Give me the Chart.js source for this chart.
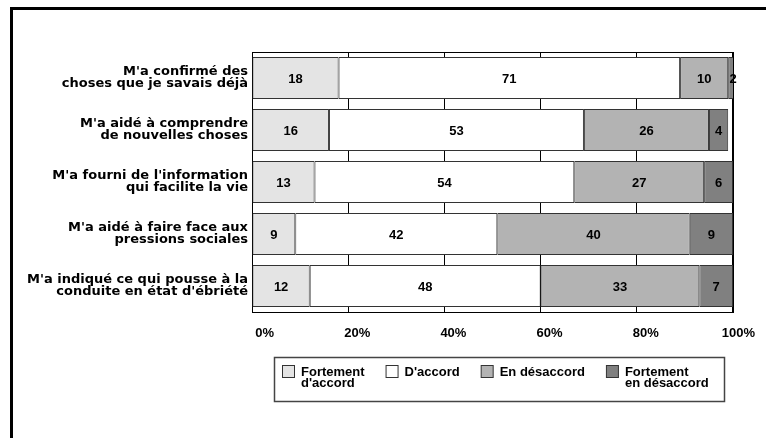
<!DOCTYPE html>
<html>
<head>
<meta charset="utf-8">
<script src="https://cdn.jsdelivr.net/npm/chart.js@4/dist/chart.umd.min.js"></script>
<style>
  html, body { margin: 0; padding: 0; background: #fff; }
  #wrap { position: relative; width: 766px; height: 438px; overflow: hidden; }
  #frame { position: absolute; left: 10px; top: 7px; width: 800px; height: 500px;
           border-left: 3px solid #000; border-top: 3px solid #000; }
  #c { position: absolute; left: 0; top: 0; }
</style>
</head>
<body>
<div id="wrap">
  <div id="frame"></div>
  <canvas id="c" width="766" height="438"></canvas>
</div>
<script>
// Survey statements (two-line labels)
const categories = [
  ["M'a confirmé des", "choses que je savais déjà"],
  ["M'a aidé à comprendre", "de nouvelles choses"],
  ["M'a fourni de l'information", "qui facilite la vie"],
  ["M'a aidé à faire face aux", "pressions sociales"],
  ["M'a indiqué ce qui pousse à la", "conduite en état d'ébriété"]
];

// Answer shares, in percent
const seriesNames = [["Fortement", "d'accord"], ["D'accord"], ["En désaccord"], ["Fortement", "en désaccord"]];
const fortementAccord    = [18, 16, 13, 9, 12];
const accord             = [71, 53, 54, 42, 48];
const desaccord          = [10, 26, 27, 40, 33];
const fortementDesaccord = [2, 4, 6, 9, 7];

const tickValues = [0, 20, 40, 60, 80, 100];

const fills = ['#e4e4e4', '#ffffff', '#b3b3b3', '#808080'];
const FONT = '"Liberation Sans", Arial, sans-serif';

// Frame around the plot area
const plotFrame = {
  id: 'plotFrame',
  beforeDatasetsDraw(chart) {
    const { ctx, chartArea: a } = chart;
    ctx.save();
    ctx.strokeStyle = '#000';
    ctx.lineWidth = 1;
    ctx.strokeRect(Math.round(a.left) + 0.5, Math.round(a.top) + 0.5,
                   Math.round(a.right - a.left) - 1, Math.round(a.bottom - a.top));
    ctx.restore();
  }
};

// Value written in the middle of each segment
const valueLabels = {
  id: 'valueLabels',
  afterDatasetsDraw(chart) {
    const ctx = chart.ctx;
    ctx.save();
    ctx.font = 'bold 13px ' + FONT;
    ctx.fillStyle = '#000';
    ctx.textAlign = 'center';
    ctx.textBaseline = 'middle';
    chart.data.datasets.forEach((ds, i) => {
      const meta = chart.getDatasetMeta(i);
      meta.data.forEach((bar, j) => {
        const p = bar.getProps(['x', 'y', 'base'], true);
        ctx.fillText(String(ds.data[j]), (p.x + p.base) / 2, p.y + 1);
      });
    });
    ctx.restore();
  }
};

// Boxed legend with two-line entries
const boxLegend = {
  id: 'boxLegend',
  afterDraw(chart) {
    const ctx = chart.ctx;
    const box = { x: 274.5, y: 357.5, w: 450, h: 44 };
    ctx.save();
    ctx.strokeStyle = '#444';
    ctx.lineWidth = 1.5;
    ctx.strokeRect(box.x, box.y, box.w, box.h);
    ctx.font = 'bold 13px ' + FONT;
    ctx.textAlign = 'left';
    ctx.textBaseline = 'alphabetic';
    let x = 282;
    const sq = 12, top = 365;
    chart.data.datasets.forEach((ds) => {
      const lines = Array.isArray(ds.label) ? ds.label : [ds.label];
      ctx.fillStyle = ds.backgroundColor;
      ctx.fillRect(x + 0.5, top + 0.5, sq, sq);
      ctx.strokeStyle = '#333';
      ctx.lineWidth = 1;
      ctx.strokeRect(x + 0.5, top + 0.5, sq, sq);
      ctx.fillStyle = '#000';
      let w = 0;
      lines.forEach((t, k) => {
        ctx.fillText(t, x + sq + 7, top + 11 + k * 11);
        w = Math.max(w, ctx.measureText(t).width);
      });
      x += sq + 7 + w + 21;
    });
    ctx.restore();
  }
};

const seriesData = [fortementAccord, accord, desaccord, fortementDesaccord];

new Chart(document.getElementById('c'), {
  type: 'bar',
  data: {
    labels: categories,
    datasets: seriesData.map((d, i) => ({
      label: seriesNames[i],
      data: d,
      backgroundColor: fills[i],
      borderColor: '#333',
      borderWidth: 1,
      borderSkipped: false,
      barPercentage: 0.81,
      categoryPercentage: 1.0
    }))
  },
  options: {
    indexAxis: 'y',
    responsive: false,
    animation: false,
    devicePixelRatio: 1,
    layout: { padding: { top: 52, right: 33, left: 0, bottom: 0 } },
    plugins: { legend: { display: false }, tooltip: { enabled: false } },
    scales: {
      x: {
        stacked: true,
        min: 0,
        max: 100,
        afterBuildTicks(s) { s.ticks = tickValues.map(v => ({ value: v })); },
        afterFit(s) { s.height = 126; },
        grid: { color: '#000', lineWidth: 1, drawTicks: false },
        border: { display: true, color: '#000', width: 1 },
        ticks: {
          autoSkip: false,
          maxRotation: 0,
          align: 'end',
          labelOffset: 22,
          padding: 14,
          color: '#000',
          font: { family: FONT, size: 13, weight: 'bold' },
          callback: (v) => v + '%'
        }
      },
      y: {
        stacked: true,
        afterFit(s) { s.width = 252; },
        grid: { display: false, drawTicks: false },
        border: { display: true, color: '#000', width: 1 },
        ticks: {
          padding: 4,
          color: '#000',
          font: { family: '"DejaVu Sans", sans-serif', size: 13, weight: 'bold', lineHeight: 0.92 }
        }
      }
    }
  },
  plugins: [plotFrame, valueLabels, boxLegend]
});
</script>
</body>
</html>
